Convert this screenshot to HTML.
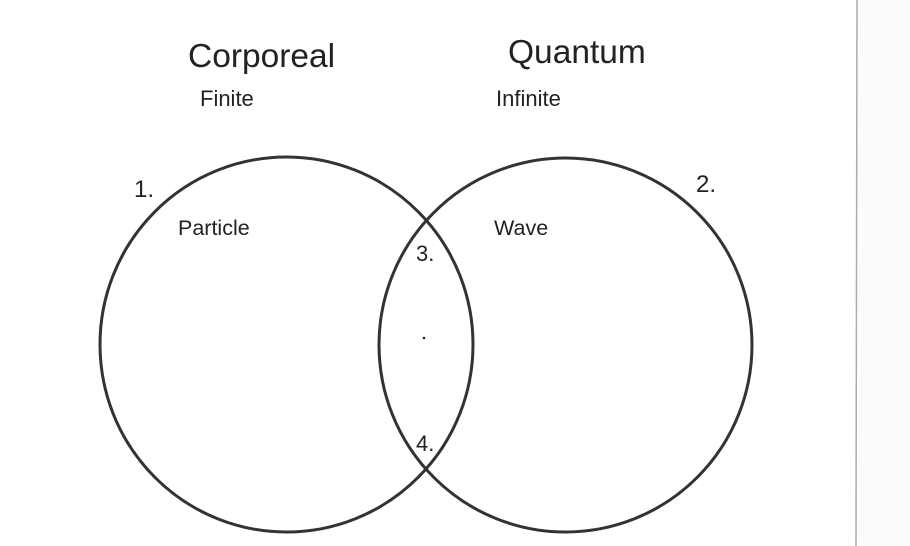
<!DOCTYPE html>
<html><head><style>
html,body{margin:0;padding:0;background:#fff;}
body{width:910px;height:546px;overflow:hidden;position:relative;}
</style></head><body>
<svg width="910" height="546" xmlns="http://www.w3.org/2000/svg" style="position:absolute;left:0;top:0">
<rect x="858" y="0" width="52" height="546" fill="#fbfbfb"/>
<line x1="857" y1="0" x2="856" y2="546" stroke="#aaa" stroke-width="1.5"/>
<ellipse cx="286.5" cy="344.5" rx="186.5" ry="187.5" fill="none" stroke="#333" stroke-width="3"/>
<ellipse cx="565.5" cy="345" rx="186.5" ry="187" fill="none" stroke="#333" stroke-width="3"/>
<g font-family="Liberation Sans, sans-serif" fill="#222">
<text x="188" y="67" font-size="33.5">Corporeal</text>
<text x="508" y="63" font-size="33.5">Quantum</text>
<text x="200" y="106" font-size="22">Finite</text>
<text x="496" y="106" font-size="22">Infinite</text>
<text x="178" y="235" font-size="21.5">Particle</text>
<text x="494" y="235" font-size="21.5">Wave</text>
</g>
<g font-family="Liberation Sans, sans-serif" fill="#222" font-size="24">
<text x="134" y="197">1.</text>
<text x="696" y="192">2.</text>
<text x="416" y="261" font-size="22">3.</text>
<text x="416" y="451" font-size="22">4.</text>
</g>
<circle cx="424" cy="338" r="1.3" fill="#222"/>
</svg>
</body></html>
